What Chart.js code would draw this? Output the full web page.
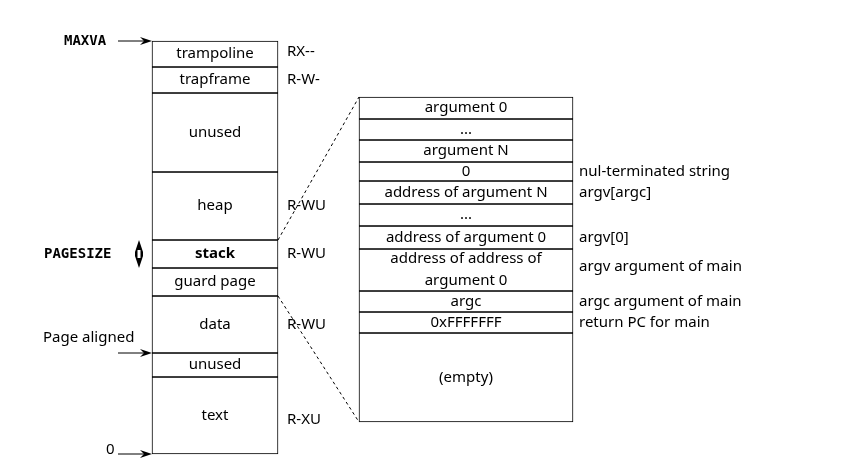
<!DOCTYPE html>
<html><head><meta charset="utf-8">
<script src="https://cdn.jsdelivr.net/npm/chart.js@4"></script>
<style>html,body{margin:0;background:#fff}#wrap{width:864px;height:475px}</style>
</head><body><div id="wrap"><canvas id="c"></canvas></div>
<script>
// Left column: process address space, boundaries top->bottom
const leftNames = ['trampoline', 'trapframe', 'unused', 'heap', 'stack', 'guard page', 'data', 'unused', 'text'];
const leftEdges = [41, 67, 93, 172, 240, 268, 296, 353, 377, 454];
const leftPerms = ['RX--', 'R-W-', '', 'R-WU', 'R-WU', '', 'R-WU', '', 'R-XU'];
// Right column: user stack contents
const rightNames = ['argument 0', '...', 'argument N', '0', 'address of argument N', '...', 'address of argument 0',
  'address of address of\nargument 0', 'argc', '0xFFFFFFF', '(empty)'];
const rightEdges = [97, 119, 140, 162, 181, 204, 226, 249, 291, 312, 333, 422];
const rightNotes = ['', '', '', 'nul-terminated string', 'argv[argc]', '', 'argv[0]', 'argv argument of main',
  'argc argument of main', 'return PC for main', ''];
const sideLabels = [['MAXVA', 41], ['PAGESIZE', 254], ['Page aligned', 338], ['0', 450]];

const LX = 215, LW = 126, RX = 466, RW = 214;
const datasets = [];
leftNames.forEach((n, i) => datasets.push({type: 'bar', label: n, data: [{x: LX, y: [leftEdges[i], leftEdges[i + 1]]}],
  barThickness: LW, grouped: false, backgroundColor: '#fff', borderColor: '#000', borderWidth: 1, borderSkipped: false}));
rightNames.forEach((n, i) => datasets.push({type: 'bar', label: n, data: [{x: RX, y: [rightEdges[i], rightEdges[i + 1]]}],
  barThickness: RW, grouped: false, backgroundColor: '#fff', borderColor: '#000', borderWidth: 1, borderSkipped: false}));
datasets.push({type: 'line', data: [{x: LX + LW / 2, y: leftEdges[4]}, {x: RX - RW / 2, y: rightEdges[0]}],
  borderColor: '#000', borderWidth: 1, borderDash: [3, 3], pointRadius: 0});
datasets.push({type: 'line', data: [{x: LX + LW / 2, y: leftEdges[6]}, {x: RX - RW / 2, y: rightEdges[11]}],
  borderColor: '#000', borderWidth: 1, borderDash: [3, 3], pointRadius: 0});

const labels = {
  id: 'labels',
  afterDraw(chart) {
    const ctx = chart.ctx, sx = chart.scales.x, sy = chart.scales.y;
    ctx.save();
    ctx.fillStyle = '#000';
    ctx.textBaseline = 'middle';
    ctx.font = '15px "Noto Sans"';
    leftNames.forEach((n, i) => {
      const yc = sy.getPixelForValue((leftEdges[i] + leftEdges[i + 1]) / 2);
      ctx.textAlign = 'center';
      ctx.font = (n === 'stack' ? 'bold ' : '') + '15px "Noto Sans"';
      ctx.fillText(n, sx.getPixelForValue(LX), yc);
      ctx.font = '15px "Noto Sans"';
      ctx.textAlign = 'left';
      if (leftPerms[i]) {
        let py = yc;
        if (i === 0) py = yc - 2;
        if (i === 8) py = yc + 4;
        ctx.fillText(leftPerms[i], sx.getPixelForValue(287), py);
      }
    });
    rightNames.forEach((n, i) => {
      const yc = sy.getPixelForValue((rightEdges[i] + rightEdges[i + 1]) / 2);
      ctx.textAlign = 'center';
      const parts = n.split('\n');
      parts.forEach((p, k) => ctx.fillText(p, sx.getPixelForValue(RX), yc + (k - (parts.length - 1) / 2) * 22));
      if (rightNotes[i]) {
        ctx.textAlign = 'left';
        ctx.fillText(rightNotes[i], sx.getPixelForValue(579), yc + (i === 7 ? -3 : 0));
      }
    });
    function arrow(x1, y1, x2, y2) {
      ctx.beginPath(); ctx.moveTo(x1, y1); ctx.lineTo(x2 - 8, y2); ctx.lineWidth = 1; ctx.stroke();
      ctx.beginPath(); ctx.moveTo(x2, y2); ctx.lineTo(x2 - 12, y2 - 4); ctx.lineTo(x2 - 8, y2); ctx.lineTo(x2 - 12, y2 + 4); ctx.closePath(); ctx.fill();
    }
    const px = v => sx.getPixelForValue(v), py = v => sy.getPixelForValue(v);
    ctx.textAlign = 'left';
    ctx.font = 'bold 14px "DejaVu Sans Mono"';
    ctx.fillText(sideLabels[0][0], 64, py(sideLabels[0][1]));
    arrow(118, py(41), px(152), py(41));
    ctx.fillText(sideLabels[1][0], 44, py(sideLabels[1][1]));
    ctx.font = '15px "Noto Sans"';
    ctx.fillText(sideLabels[2][0], 43, py(sideLabels[2][1]));
    arrow(118, py(353), px(152), py(353));
    ctx.fillText(sideLabels[3][0], 106, py(sideLabels[3][1]));
    arrow(118, py(454), px(152), py(454));
    // PAGESIZE double arrow
    const ax = 139, t = py(240), b = py(268);
    ctx.beginPath();
    ctx.moveTo(ax, t); ctx.lineTo(ax + 4, t + 12); ctx.lineTo(ax + 4, b - 12); ctx.lineTo(ax, b);
    ctx.lineTo(ax - 4, b - 12); ctx.lineTo(ax - 4, t + 12); ctx.closePath(); ctx.fill();
    ctx.fillStyle = '#fff';
    ctx.fillRect(ax - 1.5, (t + b) / 2 - 4, 3, 8);
    ctx.restore();
  }
};

new Chart(document.getElementById('c'), {
  type: 'bar',
  data: {datasets},
  options: {
    responsive: true, maintainAspectRatio: false, animation: false,
    layout: {padding: 0},
    plugins: {legend: {display: false}, tooltip: {enabled: false}},
    scales: {
      x: {type: 'linear', min: 0, max: 864, display: false, offset: false, stacked: false},
      y: {type: 'linear', min: 0, max: 475, reverse: true, display: false}
    }
  },
  plugins: [labels]
});
</script></body></html>
